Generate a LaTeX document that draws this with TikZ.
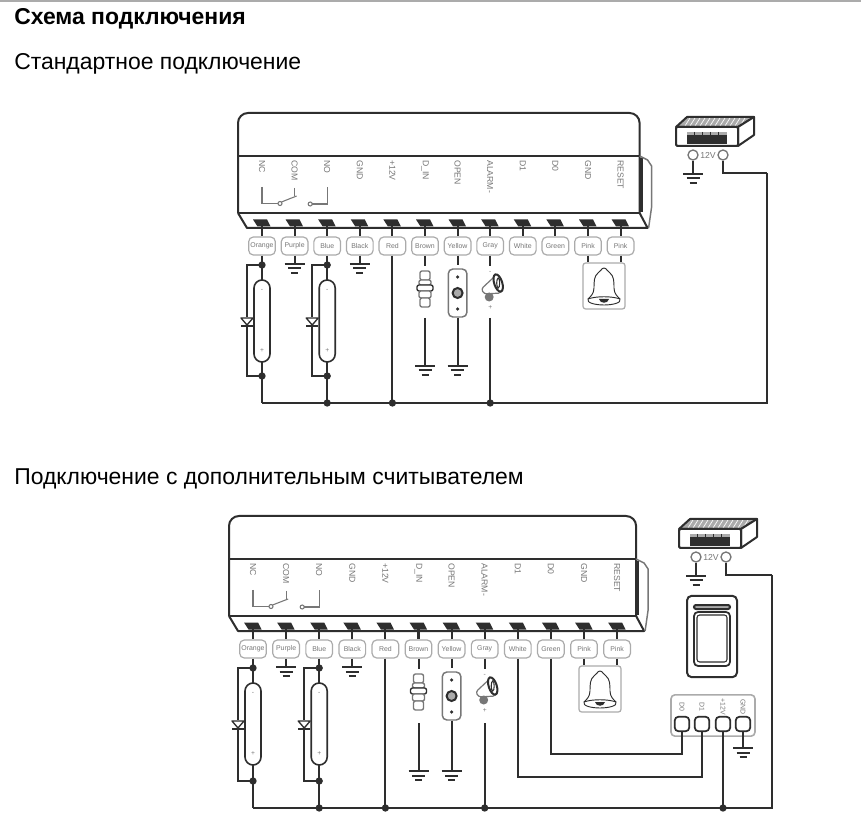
\documentclass[tikz,border=0pt]{standalone}
\usepackage{fontspec}
\setmainfont{Liberation Sans}
\usetikzlibrary{calc}
\definecolor{ink}{HTML}{2E2E2E}
\definecolor{soft}{HTML}{777777}
\definecolor{pale}{HTML}{ABABAB}
\tikzset{
  wire/.style={draw=ink,line width=1.6pt,line join=miter},
  slim wire/.style={draw=ink,line width=1.5pt},
  thin wire/.style={draw=soft,line width=0.8pt},
  body/.style={draw=ink,line width=1.5pt},
  dot/.style={circle,fill=ink,inner sep=0pt,minimum size=5.5pt},
  tag/.style={draw=pale,line width=0.9pt,rounded corners=3.5pt,minimum width=20pt,minimum height=13.5pt,inner sep=0pt,font=\fontsize{5.2}{6}\selectfont,text=soft},
  pinname/.style={rotate=-90,anchor=west,inner sep=0pt,font=\fontsize{6.5}{7}\selectfont,text=soft},
  capsule/.style={draw=ink,line width=1.2pt,fill=white,rounded corners=6pt,minimum width=12pt,minimum height=61.5pt,inner sep=0pt},
  knob/.style={draw=ink,line width=1.3pt,fill=white,rounded corners=3pt,minimum size=11pt,inner sep=0pt},
  lug/.style={draw=soft,line width=1pt,fill=white,circle,minimum size=7.5pt,inner sep=0pt},
  bellbox/.style={draw=pale,line width=0.9pt,rounded corners=2pt,minimum width=31.5pt,minimum height=34.5pt,inner sep=0pt},
  pushplate/.style={draw=soft,line width=1.1pt,fill=white,rounded corners=3.5pt,minimum width=14pt,minimum height=36pt,inner sep=0pt},
  sign/.style={inner sep=0pt,font=\fontsize{5}{6}\selectfont,text=soft},
  heading/.style={anchor=base west,inner sep=0pt,text=black}
}
\newcommand{\colX}[1]{\xz+#1*\pp}
\newcommand{\earth}[2]{%
  \draw[slim wire] (#1-10,#2) -- (#1+10,#2);
  \draw[slim wire] (#1-6.5,#2+4.5) -- (#1+6.5,#2+4.5);
  \draw[slim wire] (#1-3.5,#2+9) -- (#1+3.5,#2+9);}
\newcommand{\diodesym}[2]{%
  \begin{scope}[shift={(#1,#2)}]
    \fill[white] (-6,-4) rectangle (6,6);
    \draw[ink,line width=1pt,fill=white,line join=round] (-6,-3) -- (6,-3) -- (0,4) -- cycle;
    \draw[ink,line width=1.8pt] (-6,5) -- (6,5);
  \end{scope}}
\newcommand{\bellsym}[2]{%
  \begin{scope}[shift={(#1,#2)}]
    \draw[ink,line width=0.7pt] (0,0) .. controls (-3,0) and (-3,4) .. (-6,5)
      .. controls (-10,8) and (-10,14) .. (-10,20) .. controls (-10,26) and (-14,29) .. (-16,31)
      .. controls (-18,35) and (-8,37) .. (0,37) .. controls (8,37) and (18,35) .. (16,31)
      .. controls (14,29) and (10,26) .. (10,20) .. controls (10,14) and (10,8) .. (6,5)
      .. controls (3,4) and (3,0) .. (0,0) -- cycle;
    \draw[ink,line width=0.7pt] (-16,31) .. controls (-8,28) and (8,28) .. (16,31);
    \fill[ink] (-5,31) -- (5,31) .. controls (4,36) and (-4,36) .. (-5,31) -- cycle;
  \end{scope}}
\newcommand{\plugsym}[2]{%
  \begin{scope}[shift={(#1,#2)}]
    \draw[soft,line width=1pt,fill=white,rounded corners=1.5pt] (-5,0) rectangle (5,9);
    \draw[soft,line width=1pt,fill=white,rounded corners=1.5pt] (-6,9) rectangle (6,14);
    \draw[ink,line width=1pt,fill=white,rounded corners=1.5pt] (-8,14) rectangle (8,20);
    \draw[soft,line width=1pt,fill=white,rounded corners=1.5pt] (-6,20) rectangle (6,27);
    \draw[soft,line width=1pt,fill=white,rounded corners=1.5pt] (-5,27) rectangle (5,36);
  \end{scope}}
\newcommand{\sirensym}[2]{%
  \begin{scope}[shift={(#1,#2)}]
    \draw[soft,line width=0.9pt,fill=white,rounded corners=2pt] (-9,2) -- (6,-12) -- (11,6) -- (-6,7) -- cycle;
    \draw[ink,line width=1.5pt,fill=white,rotate around={18:(8,-4)}] (8,-4) ellipse [x radius=4,y radius=9];
    \draw[ink,line width=0.8pt] (8,-4) ellipse [x radius=1.5,y radius=5];
    \fill[soft] (-1,10) circle [radius=4.5];
  \end{scope}}
\newcommand{\supplysym}[2]{%
  \begin{scope}[shift={(#1,#2)}]
    \fill[pale] (0,10) -- (11,0) -- (78,0) -- (62,10) -- cycle;
    \foreach \s in {14,19,...,74} \draw[white,line width=0.5pt] (\s,1) -- (\s-5,9);
    \draw[body,line join=round] (0,10) -- (11,0) -- (78,0) -- (62,10) -- cycle;
    \draw[body,fill=white,line join=round] (62,10) -- (78,0) -- (78,18) -- (62,29) -- cycle;
    \draw[body,fill=white,rounded corners=1pt] (0,10) rectangle (62,29);
    \fill[ink] (11,15) rectangle (51,27);
    \fill[pale] (11,15) rectangle (51,18.5);
    \foreach \s in {18,26,...,48} \draw[ink,line width=0.4pt] (\s,15) -- (\s,18.5);
  \end{scope}}
% #1 prefix, #2 x of first terminal, #3 pitch, #4 shift down, #5 extra stretch of lower part
\newcommand{\panel}[5]{%
  \def\xz{#2}\def\pp{#3}\def\dyb{#5}%
  \begin{scope}[shift={(0,#4)}]
    % housing
    \draw[body,rounded corners=7.5pt] (\colX{0}-24,213) -- (\colX{0}-24,113) -- (\colX{11}+19,113) -- (\colX{11}+19,213);
    \draw[body] (\colX{0}-24,156) -- (\colX{11}+19,156);
    \draw[body] (\colX{0}-24,213) -- (\colX{11}+19,213);
    \draw[body,line join=round] (\colX{0}-24,213) -- (\colX{0}-15,228) -- (\colX{11}+27,228) -- (\colX{11}+19,213);
    \draw[draw=ink,line width=2.4pt] (\colX{11}+20.5,158) -- (\colX{11}+20.5,212);
    \draw[draw=soft,line width=1.1pt,line join=round] (\colX{11}+19,156) -- (\colX{11}+27,160) -- (\colX{11}+31,166) -- (\colX{11}+31,207) -- (\colX{11}+28,228);
    % names along the housing
    \foreach \i/\t in {0/NC,1/COM,2/NO,3/GND,4/+12V,5/D\_IN,6/OPEN,7/ALARM-,8/D1,9/D0,10/GND,11/RESET}
      \node[pinname] (#1n\i) at (\colX{\i},160) {\t};
    % relay symbol
    \draw[thin wire] (\colX{0},187) -- (\colX{0},203.5) -- (\colX{0}+16,203.5);
    \draw[thin wire] (\colX{0}+18,203.5) circle [radius=2];
    \draw[thin wire] (\colX{0}+19.5,202) -- (\colX{1}+2,196);
    \draw[thin wire] (\colX{1},188) -- (\colX{1},196);
    \draw[thin wire] (\colX{2}-17,204) circle [radius=2];
    \draw[thin wire] (\colX{2}-15,204) -- (\colX{2},204) -- (\colX{2},187);
    % terminals and colour tags
    \foreach \i/\t in {0/Orange,1/Purple,2/Blue,3/Black,4/Red,5/Brown,6/Yellow,7/Gray,8/White,9/Green,10/Pink,11/Pink}{
      \fill[ink] (\colX{\i}-9,219.5) -- (\colX{\i}+5,219.5) -- (\colX{\i}+8.5,226.5) -- (\colX{\i}-4.5,226.5) -- cycle;
      \node[tag] (#1t\i) at (\colX{\i},246) {\t};
      \draw[wire] (\colX{\i},224) -- (#1t\i.north);
    }
    % bus coordinates
    \coordinate (#1bus0) at (\colX{0},403+\dyb);
    \coordinate (#1bus2) at (\colX{2},403+\dyb);
    \coordinate (#1bus4) at (\colX{4},403+\dyb);
    \coordinate (#1bus7) at (\colX{7},403+\dyb);
    % door contacts with diode loops
    \foreach \i in {0,2}{
      \coordinate (#1up\i) at (\colX{\i},265);
      \coordinate (#1dn\i) at (\colX{\i},376+\dyb);
      \draw[wire] (#1t\i.south) -- (#1up\i);
      \draw[wire] (#1up\i) -- ++(-15,0) -- ($(#1dn\i)+(-15,0)$) -- (#1dn\i);
      \draw[wire] (#1up\i) -- (#1dn\i);
      \node[capsule] (#1cap\i) at (\colX{\i},321) {};
      \node[sign] at (\colX{\i},290) {-};
      \node[sign] at (\colX{\i},351) {+};
      \diodesym{\colX{\i}-15}{321}
      \node[dot] at (#1up\i) {};
      \node[dot] at (#1dn\i) {};
    }
    \draw[wire] (#1dn0) -- (#1bus0);
    \draw[wire] (#1dn2) -- (#1bus2);
    % grounds on Purple and Black
    \foreach \i in {1,3}{
      \coordinate (#1g\i) at (\colX{\i},264);
      \draw[slim wire] (#1t\i.south) -- (#1g\i);
      \earth{\colX{\i}}{264}
    }
    % Red
    \draw[wire] (#1t4.south) -- (#1bus4);
    % Brown: sensor
    \coordinate (#1s5) at (\colX{5},266);
    \draw[slim wire] (#1t5.south) -- (#1s5);
    \plugsym{\colX{5}}{271}
    \coordinate (#1a5) at (\colX{5},318+\dyb);
    \coordinate (#1b5) at (\colX{5},366+\dyb);
    \draw[slim wire] (#1a5) -- (#1b5);
    \earth{\colX{5}}{366+\dyb}
    % Yellow: push button
    \coordinate (#1s6) at (\colX{6},265);
    \draw[slim wire] (#1t6.south) -- (#1s6);
    \node[pushplate] (#1btn) at (\colX{6},293) {};
    \fill[ink] (\colX{6},277) circle [radius=1.8];
    \fill[ink] (\colX{6},309) circle [radius=1.8];
    \draw[ink,line width=1.5pt,fill=pale] (\colX{6},293) circle [radius=5];
    \coordinate (#1b6) at (\colX{6},366+\dyb);
    \draw[slim wire] (#1btn.south) -- (#1b6);
    \earth{\colX{6}}{366+\dyb}
    % Gray: siren
    \coordinate (#1s7) at (\colX{7},266);
    \draw[slim wire] (#1t7.south) -- (#1s7);
    \node[sign] at (\colX{7},272) {-};
    \sirensym{\colX{7}}{287}
    \node[sign] at (\colX{7},308) {+};
    \coordinate (#1a7) at (\colX{7},318+\dyb);
    \draw[wire] (#1a7) -- (#1bus7);
    % bell
    \node[bellbox] (#1bell) at (\colX{10}+16,286) {};
    \draw[slim wire] (#1t10.south) -- (#1t10.south |- #1bell.north);
    \draw[slim wire] (#1t11.south) -- (#1t11.south |- #1bell.north);
    \bellsym{\colX{10}+16}{268}
    % bus dots
    \node[dot] at (#1bus2) {};
    \node[dot] at (#1bus4) {};
    \node[dot] at (#1bus7) {};
  \end{scope}}
% #1 prefix, #2 x of left of supply, #3 y of top of supply, #4 x of right-hand riser
\newcommand{\powerblock}[4]{%
  \supplysym{#2}{#3}
  \node[lug] (#1m) at (#2+17,#3+38) {};
  \node[lug] (#1p) at (#2+47,#3+38) {};
  \node[inner sep=0pt,font=\fontsize{6.5}{7}\selectfont,text=soft] at (#2+32,#3+38) {12V};
  \coordinate (#1e) at (#2+17,#3+57);
  \draw[slim wire] (#1m.south) -- (#1e);
  \earth{#2+17}{#3+57}
  \coordinate (#1c) at (#2+47,#3+56);
  \coordinate (#1r) at (#4,#3+56);
  \draw[wire] (#1p.south) -- (#1c) -- (#1r);}
\begin{document}
\begin{tikzpicture}[x=0.75pt,y=-0.75pt]
\useasboundingbox (0,0) rectangle (861,816);
\fill[white] (0,0) rectangle (861,816);
\draw[draw=pale,line width=1.5pt] (0,1) -- (861,1);
\node[heading,font=\fontsize{17.2}{20}\selectfont\bfseries] (title) at (14,25) {Схема подключения};
\node[heading,font=\fontsize{17.2}{20}\selectfont] (first) at (14,70) {Стандартное подключение};
\node[heading,font=\fontsize{17.2}{20}\selectfont] (second) at (14,485) {Подключение с дополнительным считывателем};
% first scheme
\panel{a}{262}{32.6}{0}{0}
\powerblock{ap}{676}{117}{767}
\draw[wire] (apr) -- (abus7 -| apr) -- (abus0);
% second scheme
\panel{b}{253}{33.1}{403}{2}
\powerblock{bp}{679}{519}{772}
\coordinate (bjoin) at (723,808);
\draw[wire] (bpr) -- (bjoin -| bpr) -- (bbus0);
% reader
\node[draw=ink,line width=1.5pt,rounded corners=3.5pt,minimum width=37.5pt,minimum height=61pt,inner sep=0pt] (reader) at (712,636.5) {};
\draw[draw=ink,line width=1.5pt,fill=pale,rounded corners=1.5pt] (694,605) rectangle (730,609);
\draw[draw=ink,line width=1.3pt,rounded corners=3pt] (694,612) rectangle (730,666);
\draw[draw=ink,line width=0.8pt,rounded corners=2pt] (697,615) rectangle (727,662);
% reader connector
\node[draw=pale,line width=1.2pt,rounded corners=3pt,minimum width=63pt,minimum height=31pt,inner sep=0pt] (cbox) at (713,715.5) {};
\foreach \n/\x/\t in {1/682/D0,2/702/D1,3/723/+12V,4/743/GND}{
  \node[knob] (k\n) at (\x,724) {};
  \node[rotate=-90,inner sep=0pt,font=\fontsize{5.2}{6}\selectfont,text=soft] (kt\n) at (\x,707) {\t};
}
\coordinate (cg) at (743,748);
\draw[slim wire] (k4.south) -- (cg);
\earth{743}{748}
\coordinate (d0b) at (bt9.south |- 0,754);
\draw[wire] (bt9.south) -- (d0b) -- (d0b -| k1) -- (k1.south);
\coordinate (d1b) at (bt8.south |- 0,777);
\draw[wire] (bt8.south) -- (d1b) -- (d1b -| k2) -- (k2.south);
\draw[wire] (k3.south) -- (bjoin);
\node[dot] at (bjoin) {};
\end{tikzpicture}
\end{document}
